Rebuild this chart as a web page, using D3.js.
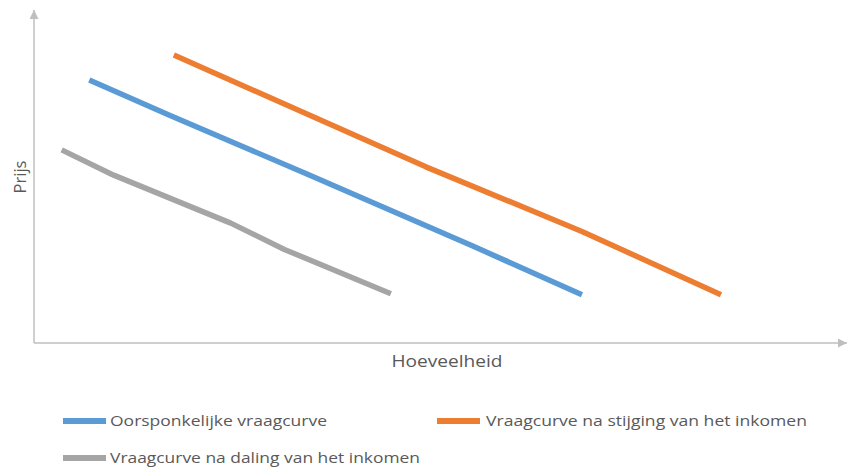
<!DOCTYPE html>
<html>
<head>
<meta charset="utf-8">
<script src="https://cdn.jsdelivr.net/npm/d3@7"></script>
<style>
  html, body { margin: 0; padding: 0; background: #fff; }
  svg { display: block; }
</style>
</head>
<body>
<svg id="chart" width="850" height="468"></svg>
<script>
// ---- Data (abstract units 0..10) ----
const seriesNames = [
  "Oorsponkelijke vraagcurve",
  "Vraagcurve na stijging van het inkomen",
  "Vraagcurve na daling van het inkomen"
];
const seriesColors = ["#5B9BD5", "#ED7D31", "#A5A5A5"];

const originalQ = [0.68, 1.66, 3.35, 5.39, 6.74];
const originalP = [7.90, 6.85, 5.08, 2.92, 1.45];

const risingQ = [1.72, 4.82, 6.74, 8.45];
const risingP = [8.65, 5.29, 3.35, 1.45];

const fallingQ = [0.34, 0.98, 2.42, 3.08, 4.39];
const fallingP = [5.80, 5.04, 3.60, 2.81, 1.48];

const xLabel = "Hoeveelheid";
const yLabel = "Prijs";

// ---- Chart ----
const svg = d3.select("#chart");
const x = d3.scaleLinear().domain([0, 10]).range([34, 847]);
const y = d3.scaleLinear().domain([0, 10]).range([343, 10]);

const axisColor = "#BFBFBF";
const textColor = "#595959";
const font = "'Open Sans', 'Liberation Sans', sans-serif";

// axes with arrows
const defs = svg.append("defs");
defs.append("marker")
  .attr("id", "arrow")
  .attr("viewBox", "0 0 10 10")
  .attr("refX", 10).attr("refY", 5)
  .attr("markerWidth", 9).attr("markerHeight", 9)
  .attr("markerUnits", "userSpaceOnUse")
  .attr("orient", "auto")
  .append("path")
  .attr("d", "M0,0 L10,5 L0,10 Z")
  .attr("fill", axisColor);

svg.append("line")
  .attr("x1", x(0)).attr("y1", y(0))
  .attr("x2", x(0)).attr("y2", y(10))
  .attr("stroke", axisColor).attr("stroke-width", 1.5)
  .attr("marker-end", "url(#arrow)");
svg.append("line")
  .attr("x1", x(0)).attr("y1", y(0))
  .attr("x2", x(10)).attr("y2", y(0))
  .attr("stroke", axisColor).attr("stroke-width", 1.5)
  .attr("marker-end", "url(#arrow)");

// lines
const line = d3.line().x(d => x(d[0])).y(d => y(d[1]));
const series = [
  d3.zip(originalQ, originalP),
  d3.zip(risingQ, risingP),
  d3.zip(fallingQ, fallingP)
];
series.forEach((pts, i) => {
  svg.append("path")
    .datum(pts)
    .attr("d", line)
    .attr("fill", "none")
    .attr("stroke", seriesColors[i])
    .attr("stroke-width", 5.5)
    .attr("stroke-linejoin", "round");
});

// axis titles
svg.append("text")
  .attr("x", 447).attr("y", 367)
  .attr("text-anchor", "middle")
  .attr("font-family", font).attr("font-size", 16)
  .attr("fill", textColor)
  .attr("textLength", 111).attr("lengthAdjust", "spacingAndGlyphs")
  .text(xLabel);

svg.append("text")
  .attr("transform", "translate(26,177) rotate(-90)")
  .attr("text-anchor", "middle")
  .attr("font-family", font).attr("font-size", 16)
  .attr("fill", textColor)
  .attr("textLength", 33).attr("lengthAdjust", "spacingAndGlyphs")
  .text(yLabel);

// legend
const legendPos = [
  { sx: 63, y: 421, tx: 110, w: 217 },
  { sx: 437, y: 421, tx: 486, w: 321 },
  { sx: 63, y: 458, tx: 110, w: 310 }
];
seriesNames.forEach((name, i) => {
  const p = legendPos[i];
  svg.append("line")
    .attr("x1", p.sx).attr("x2", p.sx + 43)
    .attr("y1", p.y).attr("y2", p.y)
    .attr("stroke", seriesColors[i]).attr("stroke-width", 6);
  svg.append("text")
    .attr("x", p.tx).attr("y", p.y + 5)
    .attr("font-family", font).attr("font-size", 15)
    .attr("fill", textColor)
    .attr("textLength", p.w).attr("lengthAdjust", "spacingAndGlyphs")
    .text(name);
});
</script>
</body>
</html>
